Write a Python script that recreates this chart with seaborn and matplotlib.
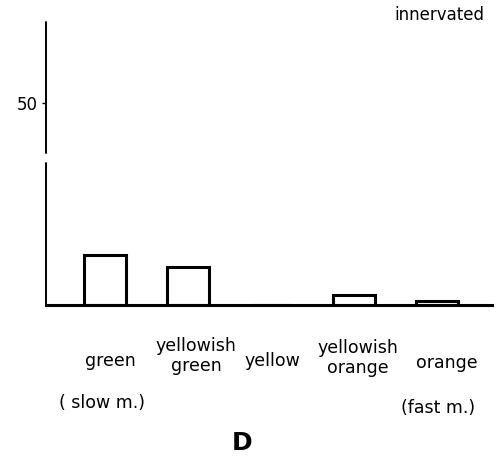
import matplotlib
matplotlib.use("Agg")
import matplotlib.pyplot as plt
import matplotlib.transforms as mtransforms
import seaborn as sns
import pandas as pd

categories = ["green", "yellowish\ngreen", "yellow", "yellowish\norange", "orange"]
values = [12.4, 9.4, 0.0, 2.5, 1.0]
y_ticks = [50]
y_tick_labels = ["50"]

sns.set_theme(style="white")
plt.rcParams["font.family"] = ["DejaVu Sans"]
plt.rcParams["text.color"] = "black"
plt.rcParams["xtick.color"] = "black"
plt.rcParams["ytick.color"] = "black"

fig = plt.figure(figsize=(5.0, 4.66), dpi=100)
ax = fig.add_axes([0.092, 0.3455, 0.892, 0.6075])

df = pd.DataFrame({"cat": categories, "val": values})
sns.barplot(data=df, x="cat", y="val", ax=ax, fill=False, color="black",
            linewidth=2.2, width=0.5, errorbar=None)

ax.set_xlim(-0.71, 4.66)
ax.set_ylim(0, 70)
ax.set_xlabel("")
ax.set_ylabel("")
ax.set_yticks(y_ticks)
ax.set_yticklabels(y_tick_labels, fontsize=12)
ax.tick_params(axis="y", which="both", left=True, length=3, width=1, pad=3, colors="black")
ax.tick_params(axis="x", length=0, pad=40, colors="black")

# small hand-lettered offsets of the category labels (points)
label_shift = [(4, 0), (6, 3), (1, 0), (3, 2), (7, -2)]
for lab, (dx, dy) in zip(ax.get_xticklabels(), label_shift):
    lab.set_fontsize(12.5)
    lab.set_verticalalignment("center")
    lab.set_linespacing(1.15)
    lab.set_transform(lab.get_transform() + mtransforms.ScaledTranslation(dx / 72, dy / 72, fig.dpi_scale_trans))

for s in ["top", "right", "left"]:
    ax.spines[s].set_visible(False)
ax.spines["bottom"].set_linewidth(2.2)
ax.spines["bottom"].set_color("black")

# broken y-axis
ax.plot([0, 0], [0, 35.0 / 70], transform=ax.transAxes, color="black", lw=1.4, clip_on=False)
ax.plot([0, 0], [37.6 / 70, 1.0], transform=ax.transAxes, color="black", lw=1.4, clip_on=False)

ax.text(0.125, -0.346, "( slow m.)", transform=ax.transAxes, fontsize=12.5, ha="center", va="center")
ax.text(0.880, -0.364, "(fast m.)", transform=ax.transAxes, fontsize=12.5, ha="center", va="center")
ax.text(0.983, 1.025, "innervated", transform=ax.transAxes, fontsize=12, ha="right", va="center")
fig.text(0.484, 0.024, "D", fontsize=18, fontweight="bold", ha="center", va="bottom")

fig.savefig("out.png", dpi=100)
